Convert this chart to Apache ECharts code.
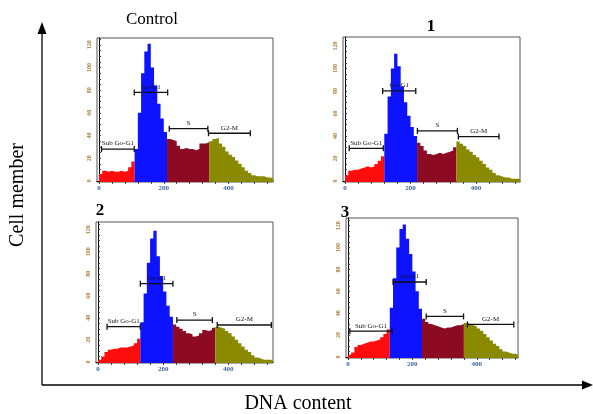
<!DOCTYPE html>
<html>
<head>
<meta charset="utf-8">
<script src="https://cdn.jsdelivr.net/npm/echarts@6/dist/echarts.min.js"></script>
<style>
html, body { margin: 0; padding: 0; background: #fff; }
#chart { width: 593px; height: 414px; }
</style>
</head>
<body>
<div id="chart"></div>
<script>
// histogram bins (DNA content, left edge of each 10-unit bin)
const bins = [0, 10, 20, 30, 40, 50, 60, 70, 80, 90, 100, 110, 120, 130, 140, 150, 160, 170, 180, 190,
  200, 210, 220, 230, 240, 250, 260, 270, 280, 290, 300, 310, 320, 330, 340, 350, 360, 370, 380, 390,
  400, 410, 420, 430, 440, 450, 460, 470, 480, 490, 500, 510, 520, 530]

// cell counts per bin
const controlCounts = [6, 9, 8, 9, 8, 8, 9, 8, 9, 12, 17,
  28, 60, 95, 114, 121, 100, 84, 68, 55, 43,
  37, 36, 35, 31, 28, 29, 28, 28, 27, 28, 33, 33, 34,
  35, 37, 38, 33, 30, 26, 23, 21, 18, 15, 12, 9, 7, 5, 4, 4, 4, 3, 3, 2]
const sample1Counts = [5, 9, 10, 10, 11, 12, 13, 12, 13, 15, 18, 22,
  42, 75, 100, 113, 102, 84, 70, 58, 48, 40,
  34, 31, 27, 24, 23, 24, 25, 24, 25, 26, 27, 30,
  35, 33, 31, 28, 26, 23, 21, 18, 15, 12, 10, 7, 5, 4, 3, 3, 2, 2, 2, 1]
const sample2Counts = [2, 5, 9, 11, 12, 12, 13, 13, 13, 14, 15, 17, 21,
  36, 62, 90, 112, 119, 96, 78, 64, 51, 41,
  34, 32, 30, 28, 26, 25, 23, 24, 26, 29, 28, 29, 31,
  32, 31, 30, 28, 26, 23, 20, 17, 14, 11, 9, 6, 4, 3, 2, 2, 2, 1]
const sample3Counts = [2, 4, 9, 11, 12, 13, 14, 14, 15, 16, 18, 21, 25,
  45, 72, 100, 117, 121, 108, 94, 78, 60, 44,
  35, 32, 30, 29, 28, 27, 26, 27, 27, 28, 29, 29, 30,
  31, 30, 29, 28, 26, 24, 21, 18, 15, 12, 10, 7, 5, 4, 3, 3, 2, 2]

// phase boundaries (Sub G0-G1 | G0-G1 | S | G2-M)
const controlEdges = [0, 110, 210, 340, 540]
const sample1Edges = [0, 120, 220, 340, 540]
const sample2Edges = [0, 130, 230, 360, 540]
const sample3Edges = [0, 130, 230, 360, 540]

// gate markers: [start, end, level]
const controlGates = [[8, 109, 28], [109, 212, 78], [217, 336, 46], [338, 467, 42]]
const sample1Gates = [[13, 117, 29], [115, 216, 80], [221, 343, 44.5], [346, 470, 39.4]]
const sample2Gates = [[28, 130, 32], [130, 230, 71], [242, 351, 38], [366, 532, 33.5]]
const sample3Gates = [[6, 137, 23.5], [140, 243, 68.5], [243, 359, 37], [371, 515, 29.7]]

const panelTitles = ['Control', '1', '2', '3']
const phaseNames = ['Sub Go-G1', 'Go-G1', 'S', 'G2-M']

// tick labels
const xLabels = [0, 200, 400]
const xTicks = [0, 40, 80, 120, 160, 200, 240, 280, 320, 360, 400, 440, 480, 520]
const yLabels = [0, 20, 40, 60, 80, 100, 120]
const yTicks = [0, 5, 10, 15, 20, 25, 30, 35, 40, 45, 50, 55, 60, 65, 70, 75, 80, 85, 90, 95, 100, 105, 110, 115, 120, 125]

const panels = [
  { counts: controlCounts, edges: controlEdges, gates: controlGates },
  { counts: sample1Counts, edges: sample1Edges, gates: sample1Gates },
  { counts: sample2Counts, edges: sample2Edges, gates: sample2Gates },
  { counts: sample3Counts, edges: sample3Edges, gates: sample3Gates }
]

const boxes = [
  { left: 97, top: 38, width: 176, height: 144, xMax: 537, yMax: 126 },
  { left: 343, top: 37, width: 177, height: 145, xMax: 534, yMax: 128 },
  { left: 96, top: 222, width: 177, height: 141, xMax: 537, yMax: 127 },
  { left: 346, top: 218, width: 172, height: 140, xMax: 528, yMax: 127 }
]
const phaseColors = ['#ff0d0d', '#0d12ff', '#8c0a22', '#8a8a00']
const serif = 'Liberation Serif, Times New Roman, serif'

const chart = echarts.init(document.getElementById('chart'))

const grid = []
const xAxis = []
const yAxis = []
const series = []

panels.forEach((p, i) => {
  const b = boxes[i]
  grid.push({
    left: b.left, top: b.top, width: b.width, height: b.height,
    show: true, borderColor: '#555', borderWidth: 1
  })
  xAxis.push({
    type: 'value', gridIndex: i, min: -6, max: b.xMax,
    axisLine: { show: true, lineStyle: { color: '#000', width: 1.2 } },
    axisTick: { show: true, customValues: xTicks, length: 3, lineStyle: { color: '#333' } },
    axisLabel: {
      customValues: xLabels, fontSize: 7, fontWeight: 'bold', fontFamily: serif,
      color: '#3a64a0', margin: 3
    },
    splitLine: { show: false }
  })
  yAxis.push({
    type: 'value', gridIndex: i, min: -1, max: b.yMax,
    axisLine: { show: true, lineStyle: { color: '#000', width: 1 } },
    axisTick: { show: true, inside: true, customValues: yTicks, length: 2, lineStyle: { color: '#333' } },
    axisLabel: {
      customValues: yLabels, rotate: 90, fontSize: 6, fontWeight: 'bold', fontFamily: serif,
      color: '#a87a34', margin: 5
    },
    splitLine: { show: false }
  })

  // one filled step area per cell-cycle phase
  for (let k = 0; k < 4; k++) {
    const lo = p.edges[k]
    const hi = p.edges[k + 1]
    const pts = []
    bins.forEach((x, j) => {
      if (x >= lo && x < hi) pts.push([x, p.counts[j]])
    })
    pts.push([hi, pts[pts.length - 1][1]])
    series.push({
      type: 'line', xAxisIndex: i, yAxisIndex: i,
      step: 'end', data: pts, symbol: 'none',
      lineStyle: { width: 0 },
      areaStyle: { color: phaseColors[k], opacity: 1, origin: 'start' },
      silent: true
    })
  }

  // gate bars with labels
  series.push({
    type: 'custom', xAxisIndex: i, yAxisIndex: i,
    encode: { x: [0, 1], y: 2 },
    data: p.gates.map((g, k) => [g[0], g[1], g[2], k]),
    z: 10,
    renderItem: (params, api) => {
      const a = api.coord([api.value(0), api.value(2)])
      const c = api.coord([api.value(1), api.value(2)])
      const st = { stroke: '#111', lineWidth: 1.3 }
      return {
        type: 'group',
        children: [
          { type: 'line', shape: { x1: a[0], y1: a[1], x2: c[0], y2: c[1] }, style: st },
          { type: 'line', shape: { x1: a[0], y1: a[1] - 3, x2: a[0], y2: a[1] + 3 }, style: st },
          { type: 'line', shape: { x1: c[0], y1: c[1] - 3, x2: c[0], y2: c[1] + 3 }, style: st },
          {
            type: 'text', x: (a[0] + c[0]) / 2, y: a[1] - 2,
            style: {
              text: phaseNames[api.value(3)], fill: '#111',
              font: '7px ' + serif, align: 'center', verticalAlign: 'bottom'
            }
          }
        ]
      }
    }
  })
})

const titlePos = [[152, 20, 'normal'], [431, 27, 'bold'], [100, 211, 'bold'], [345, 213, 'bold']]

const option = {
  animation: false,
  grid: grid,
  xAxis: xAxis,
  yAxis: yAxis,
  series: series,
  graphic: [
    ...panelTitles.map((t, i) => ({
      type: 'text', x: titlePos[i][0], y: titlePos[i][1],
      style: {
        text: t, fill: '#000', fontSize: 17, fontWeight: titlePos[i][2], fontFamily: serif,
        align: 'center', verticalAlign: 'middle'
      }
    })),
    // big axes with arrows
    { type: 'line', shape: { x1: 42, y1: 385, x2: 42, y2: 30 }, style: { stroke: '#000', lineWidth: 1.3 } },
    { type: 'polygon', shape: { points: [[42, 22], [37.5, 34], [46.5, 34]] }, style: { fill: '#000' } },
    { type: 'line', shape: { x1: 42, y1: 385, x2: 585, y2: 385 }, style: { stroke: '#000', lineWidth: 1.3 } },
    { type: 'polygon', shape: { points: [[593, 385], [582, 380.5], [582, 389.5]] }, style: { fill: '#000' } },
    {
      type: 'text', x: 18, y: 195, rotation: Math.PI / 2,
      style: { text: 'Cell member', fill: '#000', fontSize: 20, fontFamily: serif, align: 'center', verticalAlign: 'middle' }
    },
    {
      type: 'text', x: 298, y: 404,
      style: { text: 'DNA content', fill: '#000', fontSize: 20, fontFamily: serif, align: 'center', verticalAlign: 'middle' }
    }
  ]
}
chart.setOption(option)
</script>
</body>
</html>
